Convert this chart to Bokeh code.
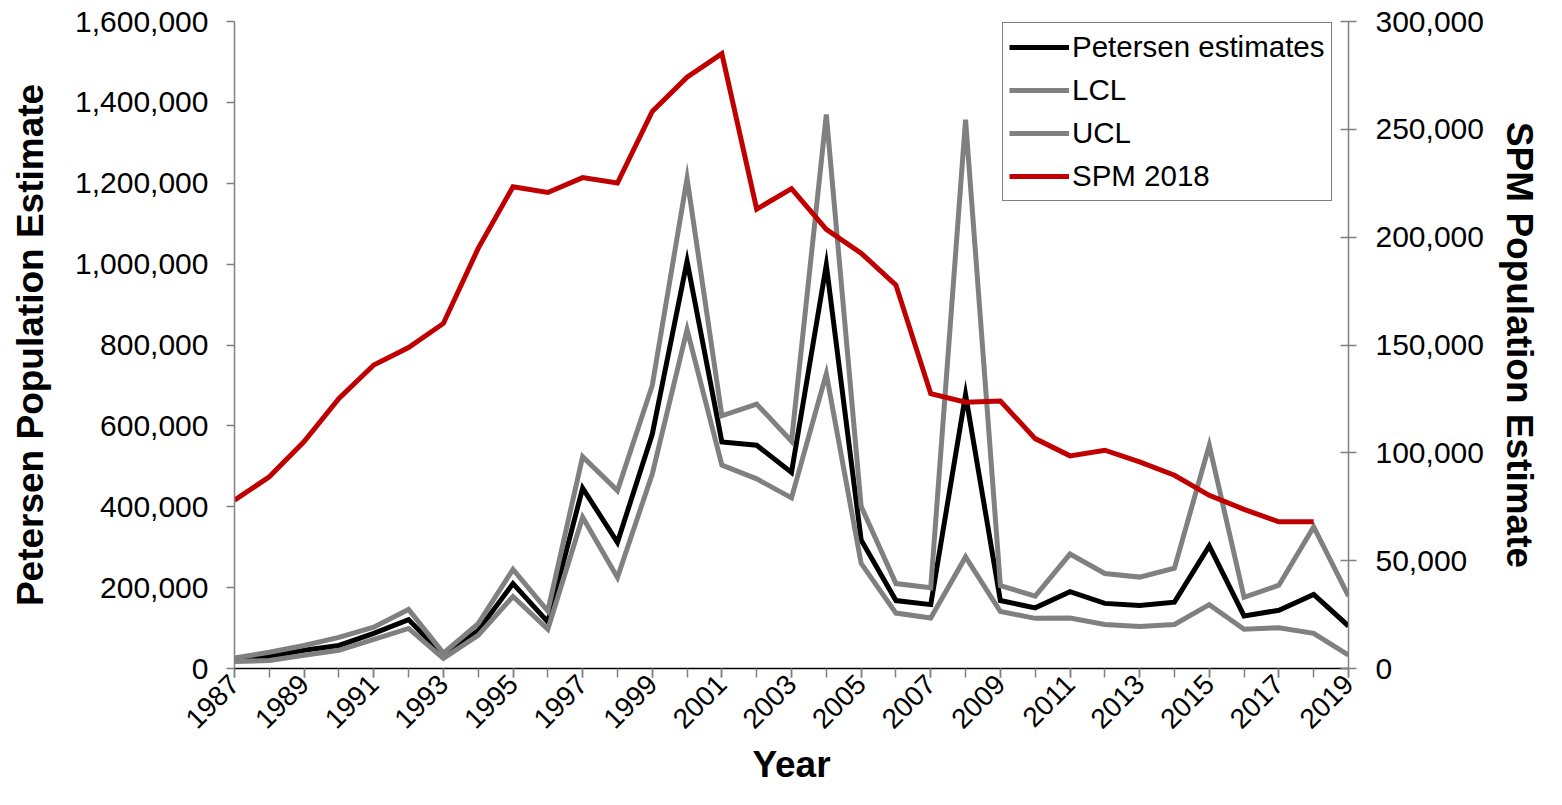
import math
from bokeh.plotting import figure
from bokeh.models import (Range1d, LinearAxis, FixedTicker, NumeralTickFormatter,
                          Legend, LegendItem)
from bokeh.embed import file_html
from bokeh.resources import INLINE

# ---------------- data ----------------
years = list(range(1987, 2020))
petersen = [22000, 30000, 45000, 57000, 87000, 121000, 32000, 94000, 210000, 115000,
            446000, 312000, 579000, 1007000, 560000, 552000, 485000, 998000, 318000,
            168000, 158000, 677000, 168000, 150000, 190000, 161000, 156000, 164000,
            303000, 130000, 144000, 183000, 105000]
lcl = [17000, 20000, 33000, 45000, 72000, 99000, 25000, 82000, 178000, 97000,
       374000, 225000, 481000, 838000, 503000, 469000, 422000, 729000, 260000,
       137000, 125000, 276000, 141000, 124000, 125000, 109000, 104000, 109000,
       158000, 97000, 101000, 87000, 33000]
ucl = [26000, 40000, 57000, 77000, 102000, 146000, 38000, 111000, 245000, 142000,
       524000, 440000, 700000, 1212000, 625000, 654000, 562000, 1370000, 401000,
       210000, 200000, 1357000, 205000, 179000, 283000, 235000, 226000, 248000,
       552000, 176000, 206000, 350000, 179000]
spm_years = list(range(1987, 2019))
spm = [78000, 88900, 105200, 125200, 140700, 148800, 160000, 194800, 223400, 220700,
       227600, 225100, 258300, 274200, 285100, 213000, 222500, 203600, 192600,
       177800, 127400, 123500, 124000, 106600, 98600, 101200, 95800, 89600, 80300,
       73800, 68000, 68000]
left_ticks = list(range(0, 1600001, 200000))
right_ticks = list(range(0, 300001, 50000))
label_years = [y for y in years if y % 2 == 1]

FONT = "Liberation Sans"
GREY = "#808080"
RED = "#C00000"

p = figure(width=1546, height=789, output_backend="svg", toolbar_location=None,
           x_range=Range1d(1987, 2019), y_range=Range1d(0, 1600000),
           min_border_left=234, min_border_right=198, min_border_top=21,
           min_border_bottom=121)
p.extra_y_ranges = {"spm": Range1d(0, 300000)}
p.grid.visible = False
p.outline_line_color = None
p.background_fill_color = "white"
p.border_fill_color = "white"

# x axis
xa = p.xaxis[0]
xa.ticker = FixedTicker(ticks=label_years, minor_ticks=years)
xa.major_label_orientation = math.pi / 4
xa.axis_line_color = "black"
xa.axis_line_width = 1.5
xa.major_tick_line_color = GREY
xa.minor_tick_line_color = GREY
xa.major_tick_line_width = 1.5
xa.minor_tick_line_width = 1.5
xa.major_tick_out = 9
xa.major_tick_in = 0
xa.minor_tick_out = 9
xa.minor_tick_in = 0
xa.major_label_text_font = FONT
xa.major_label_text_font_size = "28px"
xa.major_label_text_color = "black"
xa.major_label_standoff = 2
xa.axis_label = "Year"
xa.axis_label_text_font = FONT
xa.axis_label_text_font_size = "37px"
xa.axis_label_text_font_style = "bold"
xa.axis_label_text_color = "black"
xa.axis_label_standoff = 4

# left axis
ya = p.yaxis[0]
ya.ticker = FixedTicker(ticks=left_ticks)
ya.formatter = NumeralTickFormatter(format="0,0")
ya.axis_line_color = GREY
ya.axis_line_width = 1.5
ya.major_tick_line_color = GREY
ya.major_tick_line_width = 1.5
ya.major_tick_out = 8
ya.major_tick_in = 0
ya.minor_tick_line_color = None
ya.major_label_text_font = FONT
ya.major_label_text_font_size = "30px"
ya.major_label_text_color = "black"
ya.major_label_standoff = 18
ya.axis_label = "Petersen Population Estimate"
ya.axis_label_text_font = FONT
ya.axis_label_text_font_size = "37px"
ya.axis_label_text_font_style = "bold"
ya.axis_label_text_color = "black"
ya.axis_label_standoff = 21

# right axis
ra = LinearAxis(y_range_name="spm", ticker=FixedTicker(ticks=right_ticks),
                formatter=NumeralTickFormatter(format="0,0"))
ra.axis_line_color = GREY
ra.axis_line_width = 1.5
ra.major_tick_line_color = GREY
ra.major_tick_line_width = 1.5
ra.major_tick_out = 8
ra.major_tick_in = 8
ra.minor_tick_line_color = None
ra.major_label_text_font = FONT
ra.major_label_text_font_size = "30px"
ra.major_label_text_color = "black"
ra.major_label_standoff = 19
ra.axis_label = "SPM Population Estimate"
ra.axis_label_text_font = FONT
ra.axis_label_text_font_size = "37px"
ra.axis_label_text_font_style = "bold"
ra.axis_label_text_color = "black"
ra.axis_label_standoff = 12
p.add_layout(ra, "right")

# lines
r_pet = p.line(years, petersen, line_color="black", line_width=5, line_join="miter")
r_lcl = p.line(years, lcl, line_color=GREY, line_width=5, line_join="miter")
r_ucl = p.line(years, ucl, line_color=GREY, line_width=5, line_join="miter")
r_spm = p.line(spm_years, spm, line_color=RED, line_width=5, line_join="miter",
               y_range_name="spm")

legend = Legend(items=[
    LegendItem(label="Petersen estimates", renderers=[r_pet]),
    LegendItem(label="LCL", renderers=[r_lcl]),
    LegendItem(label="UCL", renderers=[r_ucl]),
    LegendItem(label="SPM 2018", renderers=[r_spm]),
], location=(768, 467))
legend.border_line_color = "black"
legend.border_line_width = 1
legend.background_fill_color = "white"
legend.background_fill_alpha = 1
legend.label_text_font = FONT
legend.label_text_font_size = "29.5px"
legend.label_text_color = "black"
legend.glyph_width = 60
legend.glyph_height = 36
legend.label_height = 36
legend.spacing = 7
legend.padding = 6
legend.margin = 0
legend.label_standoff = 3
p.add_layout(legend, "center")

open("out.html", "w").write(file_html(p, INLINE))
